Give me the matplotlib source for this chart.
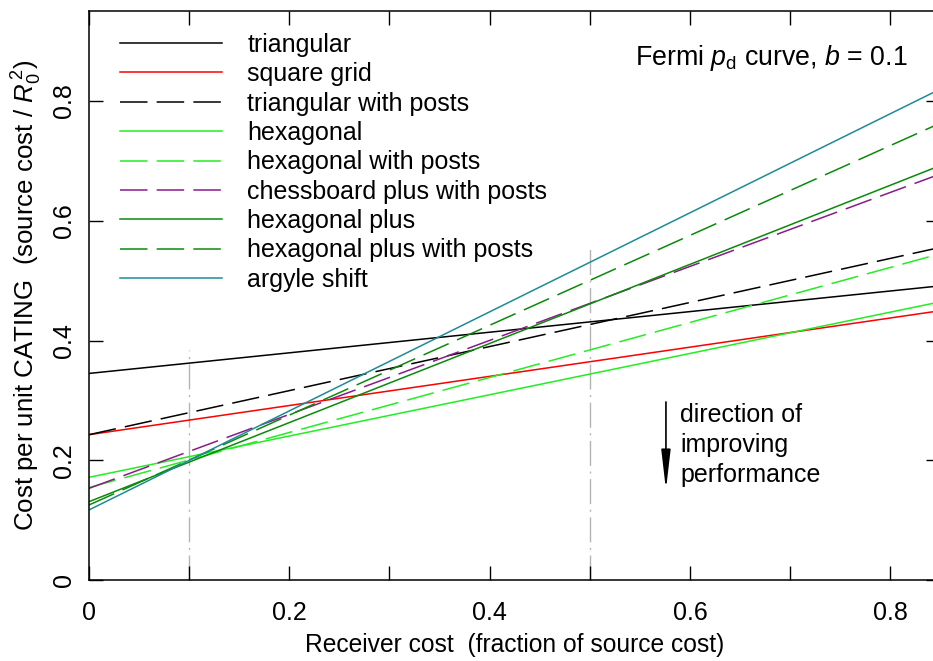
import numpy as np
import matplotlib
matplotlib.use("Agg")
import matplotlib.pyplot as plt
from matplotlib.ticker import MultipleLocator

plt.rcParams["font.family"] = ["Liberation Sans", "DejaVu Sans"]
plt.rcParams["mathtext.fontset"] = "custom"
plt.rcParams["mathtext.rm"] = "Liberation Sans"
plt.rcParams["mathtext.it"] = "Liberation Sans:italic"

# Kosten an den Enden (x = 0 und x = 0.85)
x_ends = [0.0, 0.85]
names = [
    "triangular",
    "square grid",
    "triangular with posts",
    "hexagonal",
    "hexagonal with posts",
    "chessboard plus with posts",
    "hexagonal plus",
    "hexagonal plus with posts",
    "argyle shift",
]
y_start = [0.345, 0.2427, 0.2427, 0.1715, 0.1545, 0.153, 0.1308, 0.1253, 0.117]
y_end = [0.4913, 0.4498, 0.5555, 0.4646, 0.5450, 0.6782, 0.6923, 0.7631, 0.8201]
colors = ["black", "#ff0000", "black", "#22ee22", "#22ee22", "#8b1a8b",
          "#0a8a0a", "#0a8a0a", "#1e8b96"]
dashed = [False, False, True, False, True, True, False, True, False]

# graue Hilfslinien
vlines_x = [0.1, 0.5]
vlines_top = [0.384, 0.56]

FS = 18

fig = plt.figure(figsize=(9.33, 6.61), dpi=100)
ax = fig.add_axes([89 / 933, 81 / 661, 851.4 / 933, 568.8 / 661])

for xv, yt in zip(vlines_x, vlines_top):
    ax.plot([xv, xv], [0, yt], color="#b4b4b4", lw=1.0,
            linestyle=(0, (18, 4, 1.5, 4)), zorder=1)

for name, y0, y1, c, d in zip(names, y_start, y_end, colors, dashed):
    ls = (0, (18, 6)) if d else "-"
    ax.plot(x_ends, [y0, y1], color=c, lw=1.1, linestyle=ls, label=name, zorder=2)

ax.set_xlim(0, 0.85)
ax.set_ylim(0, 0.95)
ax.xaxis.set_major_locator(MultipleLocator(0.2))
ax.xaxis.set_minor_locator(MultipleLocator(0.1))
ax.yaxis.set_major_locator(MultipleLocator(0.2))
ax.xaxis.set_major_formatter(plt.FuncFormatter(lambda v, p: "0" if v == 0 else f"{v:.1f}"))
ax.yaxis.set_major_formatter(plt.FuncFormatter(lambda v, p: "0" if v == 0 else f"{v:.1f}"))

ax.tick_params(which="both", direction="in", top=True, right=True,
               length=10, width=1.0, labelsize=FS)
ax.tick_params(axis="x", pad=15)
ax.tick_params(axis="y", pad=9, labelrotation=90)
for lab in ax.get_yticklabels():
    lab.set_va("center")

for sp in ax.spines.values():
    sp.set_linewidth(1.1)

ax.set_xlabel("Receiver cost  (fraction of source cost)", fontsize=17.7, labelpad=6)
ax.set_ylabel("Cost per unit CATING  (source cost / $R_0^{\\,2}$)", fontsize=18.6,
              labelpad=6)

leg = ax.legend(loc="upper left", bbox_to_anchor=(0.0364, 0.962), frameon=False,
                fontsize=FS, handlelength=4.1, handletextpad=1.0,
                labelspacing=0.215, borderaxespad=0, borderpad=0)

ax.text(0.8176, 0.872, "Fermi $p_{\\mathrm{d}}$ curve, $b$ = 0.1", fontsize=19.3,
        ha="right", va="center")

ax.annotate("", xy=(0.576, 0.146), xytext=(0.576, 0.302),
            arrowprops=dict(arrowstyle="-|>,head_length=1.2,head_width=0.14",
                            color="black", lw=1.2, mutation_scale=20))
ax.text(0.590, 0.2255, "direction of\nimproving\nperformance", fontsize=FS,
        ha="left", va="center", linespacing=1.3)

fig.savefig("out.png", dpi=100)
